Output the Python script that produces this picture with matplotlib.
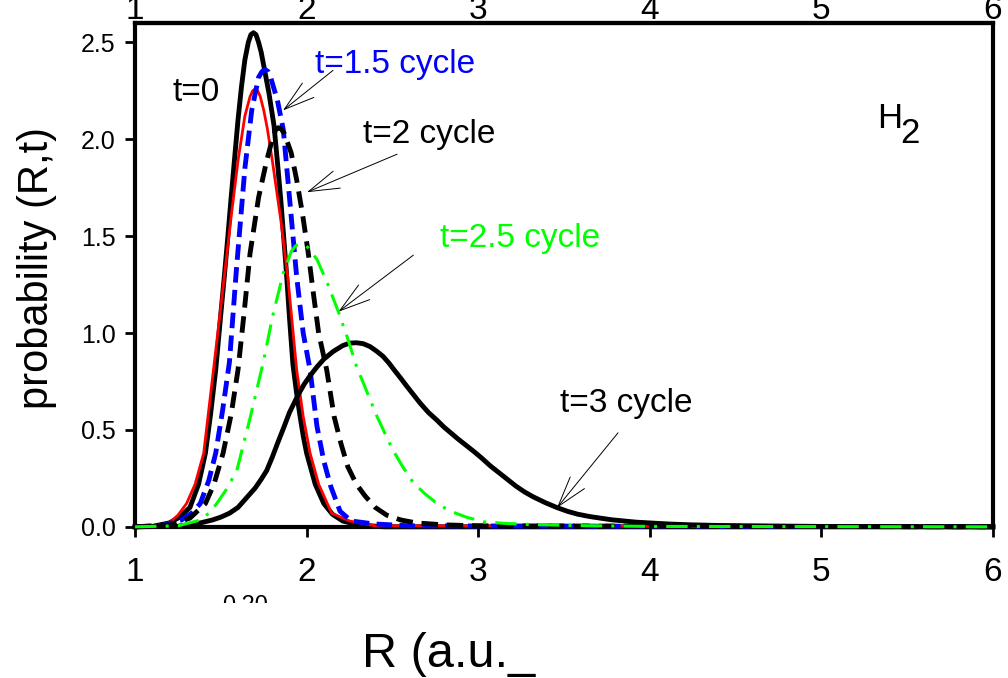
import numpy as np
import matplotlib.pyplot as plt
from matplotlib.patches import Rectangle

plt.rcParams['font.family'] = ['Liberation Sans', 'DejaVu Sans']

# =============================================================================
# Datos
# =============================================================================

# t=0 (negro continuo)
x_t0 = [1.0, 1.10, 1.20, 1.26, 1.32, 1.37, 1.41, 1.44, 1.47, 1.50, 1.52, 1.54,
        1.56, 1.58, 1.60, 1.62, 1.64, 1.66, 1.675, 1.69, 1.705, 1.72, 1.735,
        1.75, 1.78, 1.81, 1.83, 1.85, 1.88, 1.90, 1.92, 1.94, 1.96, 1.98, 2.00,
        2.05, 2.10, 2.15, 2.21, 2.30, 2.45, 6.0]
y_t0 = [0.0, 0.002, 0.02, 0.05, 0.10, 0.22, 0.38, 0.58, 0.81, 1.10, 1.29, 1.49,
        1.70, 1.90, 2.10, 2.27, 2.41, 2.50, 2.54, 2.55, 2.54, 2.50, 2.45,
        2.38, 2.24, 2.07, 1.88, 1.68, 1.34, 1.08, 0.84, 0.70, 0.58, 0.47, 0.38,
        0.22, 0.12, 0.065, 0.03, 0.01, 0.0, 0.0]

# rojo
x_red = [1.0, 1.12, 1.20, 1.25, 1.30, 1.35, 1.40, 1.457, 1.52, 1.56, 1.60, 1.64,
         1.67, 1.685, 1.70, 1.715, 1.73, 1.75, 1.77, 1.80, 1.85, 1.89, 1.942,
         1.98, 2.02, 2.07, 2.146, 2.25, 2.40, 6.0]
y_red = [0.0, 0.005, 0.02, 0.06, 0.12, 0.22, 0.38, 0.81, 1.29, 1.60, 1.89, 2.12,
         2.22, 2.25, 2.26, 2.25, 2.22, 2.15, 2.06, 1.89, 1.58, 1.29, 0.81,
         0.57, 0.38, 0.22, 0.07, 0.03, 0.005, 0.0]

# t=1.5 cycle (azul discontinuo)
x_15 = [1.0, 1.15, 1.27, 1.33, 1.38, 1.43, 1.47, 1.51, 1.55, 1.59, 1.64, 1.68,
        1.72, 1.74, 1.758, 1.775, 1.79, 1.83, 1.864, 1.90, 1.942, 1.98, 2.02,
        2.06, 2.10, 2.14, 2.195, 2.26, 2.39, 2.6, 6.0]
y_15 = [0.0, 0.005, 0.035, 0.07, 0.12, 0.24, 0.38, 0.60, 0.85, 1.32, 1.85, 2.15,
        2.32, 2.35, 2.36, 2.35, 2.32, 2.20, 2.05, 1.70, 1.29, 1.00, 0.81,
        0.52, 0.34, 0.21, 0.08, 0.03, 0.015, 0.005, 0.0]

# t=2 cycle (negro discontinuo)
x_2 = [1.0, 1.20, 1.32, 1.41, 1.46, 1.513, 1.56, 1.60, 1.635, 1.67, 1.72, 1.767,
       1.80, 1.82, 1.835, 1.85, 1.87, 1.91, 1.942, 1.975, 2.01, 2.04, 2.07,
       2.117, 2.16, 2.20, 2.24, 2.29, 2.34, 2.40, 2.467, 2.55, 2.64, 2.80, 3.0,
       6.0]
y_2 = [0.0, 0.01, 0.045, 0.12, 0.22, 0.38, 0.58, 0.81, 1.10, 1.41, 1.70, 1.89,
       2.00, 2.05, 2.06, 2.055, 2.03, 1.93, 1.79, 1.62, 1.41, 1.20, 1.00,
       0.81, 0.57, 0.43, 0.31, 0.22, 0.16, 0.10, 0.06, 0.035, 0.02, 0.01, 0.005,
       0.0]

# t=2.5 cycle (verde punto-raya)
x_25 = [1.0, 1.25, 1.38, 1.43, 1.476, 1.53, 1.593, 1.63, 1.67, 1.71, 1.75, 1.80,
        1.864, 1.91, 1.935, 1.96, 1.985, 2.01, 2.06, 2.12, 2.185, 2.24, 2.29,
        2.35, 2.41, 2.50, 2.56, 2.62, 2.69, 2.76, 2.84, 2.93, 3.03, 3.15, 3.30,
        3.6, 4.0, 6.0]
y_25 = [0.0, 0.005, 0.035, 0.07, 0.12, 0.19, 0.29, 0.42, 0.56, 0.71, 0.86, 1.08,
        1.31, 1.42, 1.45, 1.46, 1.455, 1.44, 1.38, 1.26, 1.11, 0.97, 0.83,
        0.70, 0.57, 0.40, 0.31, 0.23, 0.17, 0.12, 0.08, 0.05, 0.026, 0.018,
        0.012, 0.006, 0.002, 0.0]

# t=3 cycle (negro continuo)
x_3 = [1.0, 1.25, 1.38, 1.45, 1.50, 1.55, 1.60, 1.65, 1.70, 1.735, 1.767, 1.80,
       1.83, 1.87, 1.90, 1.95, 1.985, 2.02, 2.06, 2.10, 2.155, 2.21, 2.25, 2.29,
       2.33, 2.37, 2.41, 2.445, 2.48, 2.51, 2.55, 2.58, 2.62, 2.66, 2.71, 2.76,
       2.80, 2.84, 2.88, 2.93, 2.98, 3.02, 3.07, 3.12, 3.17, 3.22, 3.27, 3.32,
       3.39, 3.457, 3.52, 3.58, 3.65, 3.71, 3.78, 3.85, 3.92, 4.0, 4.12, 4.25,
       4.4, 4.6, 5.0, 6.0]
y_3 = [0.0, 0.003, 0.02, 0.035, 0.05, 0.07, 0.10, 0.15, 0.20, 0.245, 0.29, 0.36,
       0.43, 0.52, 0.59, 0.68, 0.735, 0.78, 0.825, 0.865, 0.905, 0.935, 0.948,
       0.95, 0.945, 0.93, 0.905, 0.88, 0.845, 0.81, 0.765, 0.73, 0.685, 0.64,
       0.59, 0.55, 0.515, 0.485, 0.455, 0.42, 0.385, 0.355, 0.315, 0.28, 0.245,
       0.21, 0.18, 0.155, 0.125, 0.10, 0.08, 0.065, 0.053, 0.045, 0.036, 0.03,
       0.024, 0.02, 0.014, 0.01, 0.007, 0.005, 0.002, 0.0]

x_ticks = [1, 2, 3, 4, 5, 6]
y_ticks = [0.0, 0.5, 1.0, 1.5, 2.0, 2.5]

# =============================================================================
# Figura
# =============================================================================

fig = plt.figure(figsize=(10.08, 6.78), dpi=100)
ax = fig.add_axes([0.134, 0.223, 0.851, 0.743])

lw = 3.5
kw = dict(clip_on=False, solid_joinstyle='round', dash_joinstyle='round')
ax.plot(x_red, y_red, color='red', linewidth=2.0, zorder=3, **kw)
ax.plot(x_t0, y_t0, color='black', linewidth=lw, zorder=2, **kw)
ax.plot(x_15, y_15, color='blue', linewidth=lw, dashes=(3.2, 1.5), zorder=4, **kw)
ax.plot(x_2, y_2, color='black', linewidth=lw, dashes=(3.4, 1.8), zorder=4, **kw)
ax.plot(x_25, y_25, color='#00ff00', linewidth=2.2, dashes=(7, 3, 1, 3),
        zorder=5, **kw)
ax.plot(x_3, y_3, color='black', linewidth=lw, zorder=4, **kw)

ax.set_xlim(1, 6)
ax.set_ylim(0, 2.6)
ax.set_xticks(x_ticks)
ax.set_xticklabels([str(v) for v in x_ticks])
ax.set_yticks(y_ticks)
ax.set_yticklabels(['%.1f' % v for v in y_ticks])

for s in ax.spines.values():
    s.set_linewidth(3.0)
    s.set_zorder(1)

ax.tick_params(axis='x', direction='out', length=7, width=2, labelsize=24, pad=15)
ax.tick_params(axis='y', direction='out', length=7, width=2, labelsize=18, pad=7)

secax = ax.secondary_xaxis('top')
secax.set_xticks(x_ticks)
secax.set_xticklabels([str(v) for v in x_ticks])
secax.tick_params(length=0, labelsize=24, pad=-2)
secax.spines['top'].set_linewidth(3.0)

# Etiquetas
fig.text(0.359, 0.0162, 'R (a.u._', fontsize=35, ha='left', va='baseline')
fig.text(0.037, 0.604, 'probability (R,t)', fontsize=30, rotation=90,
         ha='center', va='center')

# texto cortado "0.20"
fig.text(222/1008, 1 - 595/678, '0.20', fontsize=17, ha='left', va='top')
fig.patches.append(Rectangle((0.2, 0.0), 0.1, 1 - 603/678, transform=fig.transFigure,
                             facecolor='white', edgecolor='none', zorder=10))

# Anotaciones
fs = 24
ax.text(1.216, 2.20, 't=0', fontsize=fs, color='black', va='baseline')
ax.text(2.049, 2.34, 't=1.5 cycle', fontsize=fs, color='blue', va='baseline')
ax.text(2.329, 1.979, 't=2 cycle', fontsize=fs, color='black', va='baseline')
ax.text(2.777, 1.443, 't=2.5 cycle', fontsize=fs, color='#00ff00', va='baseline')
ax.text(3.477, 0.593, 't=3 cycle', fontsize=fs, color='black', va='baseline')
ax.text(5.324, 2.057, 'H', fontsize=25, color='black', va='baseline')
ax.text(5.458, 1.98, '2', fontsize=25, color='black', va='baseline')

arrows = [((2.154, 2.356), (1.862, 2.149)),
          ((2.527, 1.923), (2.002, 1.727)),
          ((2.622, 1.402), (2.185, 1.11)),
          ((3.815, 0.485), (3.459, 0.098))]
for start, tip in arrows:
    ax.annotate('', xy=tip, xytext=start,
                arrowprops=dict(arrowstyle='->,head_length=1.0,head_width=0.3',
                                mutation_scale=22, lw=0.7, color='black',
                                shrinkA=0, shrinkB=0))

plt.savefig('out.png', dpi=100)
